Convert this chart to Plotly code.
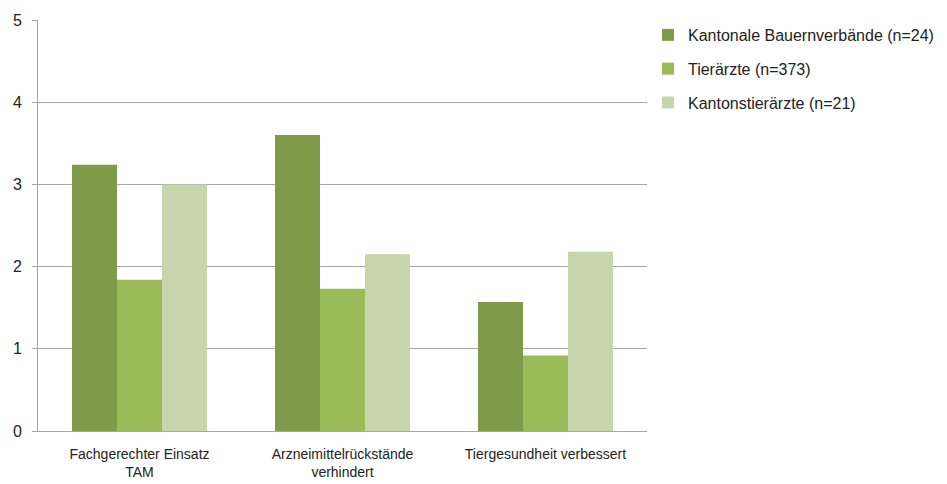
import plotly.graph_objects as go

categories = ["Fachgerechter Einsatz<br>TAM", "Arzneimittelrückstände<br>verhindert", "Tiergesundheit verbessert"]
series_names = ["Kantonale Bauernverbände (n=24)", "Tierärzte (n=373)", "Kantonstierärzte (n=21)"]
bauern = [3.24, 3.60, 1.57]
tieraerzte = [1.84, 1.73, 0.92]
kantonstieraerzte = [3.00, 2.15, 2.18]
colors = ["#7F9A48", "#9BBB59", "#C6D5AB"]

fig = go.Figure()
for name, vals, col in zip(series_names, [bauern, tieraerzte, kantonstieraerzte], colors):
    fig.add_trace(go.Bar(x=categories, y=vals, name=name, marker_color=col,
                         marker_line_width=0, legendgroup=name))

font = "Liberation Sans, Arial, sans-serif"
fig.update_layout(
    width=939, height=476,
    margin=dict(l=30, r=300, t=12, b=53, autoexpand=False),
    paper_bgcolor="white", plot_bgcolor="white",
    barmode="group", bargap=0.335, bargroupgap=0,
    font=dict(family=font, size=14, color="#222222"),
    showlegend=True,
    legend=dict(x=1.0016, y=1.005, xanchor="left", yanchor="top",
                font=dict(family=font, size=16, color="#222222"),
                traceorder="grouped", tracegroupgap=10,
                itemwidth=30, bgcolor="rgba(0,0,0,0)"),
    xaxis=dict(showline=True, linecolor="#A6A6A6", linewidth=1, ticks="",
               tickfont=dict(size=14), showgrid=False, automargin=False,
               ticklabelstandoff=10),
    yaxis=dict(range=[0, 5], dtick=1, showgrid=True, gridcolor="#A6A6A6",
               gridwidth=1, showline=True, linecolor="#A6A6A6", linewidth=1,
               ticks="outside", ticklen=5, tickcolor="#A6A6A6",
               tickfont=dict(size=16), zeroline=False, automargin=False,
               ticklabelstandoff=7),
)
fig.write_html("out.html")
